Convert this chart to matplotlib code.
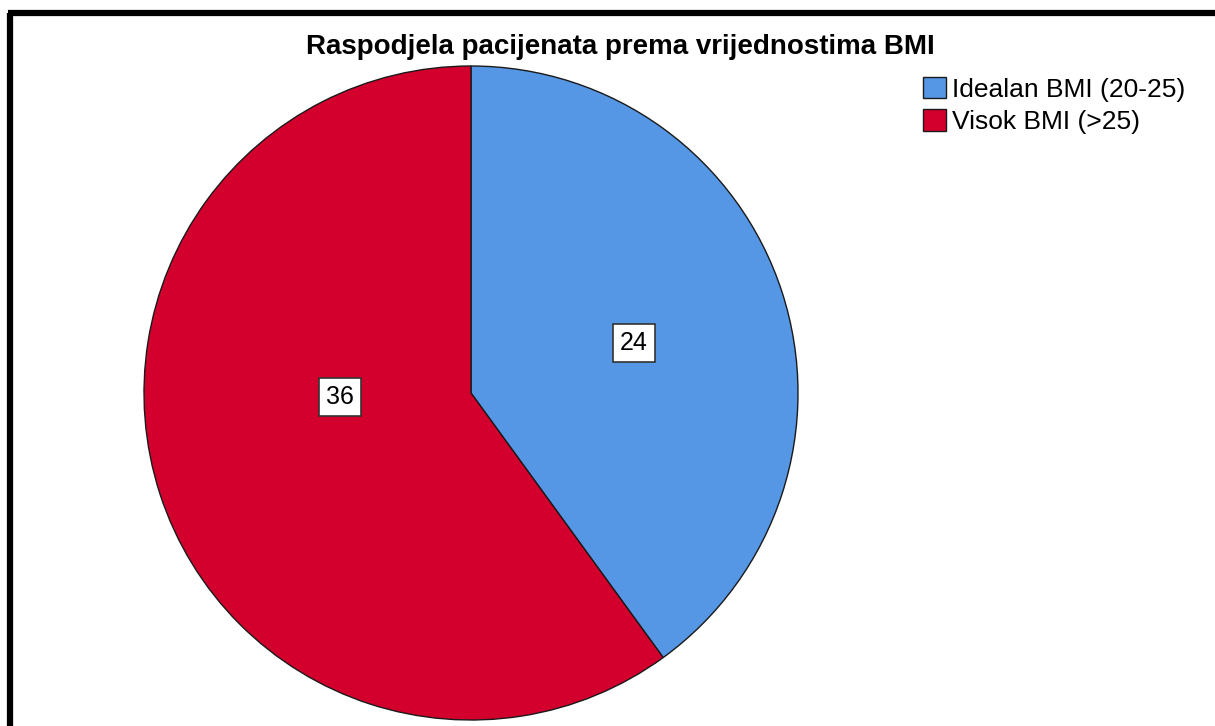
import numpy as np
import matplotlib.pyplot as plt
from matplotlib.lines import Line2D

plt.rcParams['font.family'] = ['Liberation Sans', 'DejaVu Sans']

kategorije = ["Idealan BMI (20-25)", "Visok BMI (>25)"]
broj = [24, 36]
boje = ["#5596E5", "#D3002D"]
naslov = "Raspodjela pacijenata prema vrijednostima BMI"

W, H = 1215, 726
fig = plt.figure(figsize=(W / 100, H / 100), dpi=100)

# pie axes: centre (471, 393) px, radius 327 px
cx, cy, r = 471, 393, 327
ax = fig.add_axes([(cx - r) / W, (H - cy - r) / H, 2 * r / W, 2 * r / H])
wedges, _ = ax.pie(broj, colors=boje, startangle=90, counterclock=False,
                   radius=1, wedgeprops=dict(edgecolor="#1a1a1a", linewidth=1.0))
ax.set_xlim(-1, 1)
ax.set_ylim(-1, 1)
ax.set_aspect("equal")
ax.axis("off")

# value labels (SPSS-style boxes)
lab_kut = [17, 181.7]
lab_r = [0.52, 0.40]
for v, k, rr in zip(broj, lab_kut, lab_r):
    ax.text(rr * np.cos(np.radians(k)), rr * np.sin(np.radians(k)), str(v),
            ha="center", va="center", fontsize=18,
            bbox=dict(boxstyle="square,pad=0.28", fc="white", ec="#333333", lw=1.2))

fig.text(620 / W, 1 - 47 / H, naslov, ha="center", va="center",
         fontsize=20, fontweight="bold")

leg = fig.legend(wedges, kategorije, loc="upper left",
                 bbox_to_anchor=(912 / W, 1 - 66 / H), frameon=False,
                 fontsize=19, handlelength=0.9, handleheight=0.9,
                 handletextpad=0.2, labelspacing=0.28, borderaxespad=0)

# frame (only top and left edges visible in the crop)
fig.add_artist(Line2D([10 / W, 10 / W], [0, 1 - 13 / H], color="black", lw=4.5,
                      transform=fig.transFigure, solid_capstyle="butt"))
fig.add_artist(Line2D([7.5 / W, 1], [1 - 13 / H, 1 - 13 / H], color="black", lw=4.5,
                      transform=fig.transFigure, solid_capstyle="butt"))

fig.savefig("out.png", dpi=100)
